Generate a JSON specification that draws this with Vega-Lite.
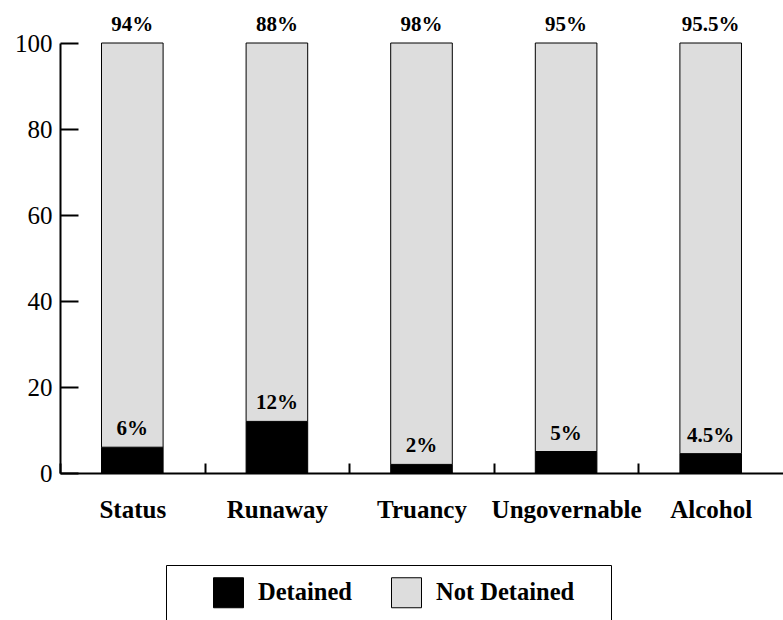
{
  "$schema": "https://vega.github.io/schema/vega-lite/v6.json",
  "autosize": {"type": "none"},
  "padding": {"left": 60, "top": 43, "right": 0, "bottom": 147},
  "width": 723,
  "height": 430,
  "config": {
    "font": "Liberation Serif, Times New Roman, serif",
    "view": {"stroke": null},
    "legend": {
      "orient": "none",
      "legendX": 106,
      "legendY": 522,
      "direction": "horizontal",
      "strokeColor": "black",
      "strokeWidth": 1,
      "padding": 12,
      "symbolType": "square",
      "symbolSize": 900,
      "symbolStrokeColor": "black",
      "symbolStrokeWidth": 1,
      "symbolOpacity": 1,
      "labelFont": "Liberation Serif, Times New Roman, serif",
      "labelFontSize": 24.5,
      "labelFontWeight": "bold",
      "labelColor": "black",
      "labelOffset": 14,
      "labelLimit": 300,
      "columnPadding": 37,
      "titleOrient": "left",
      "titleFontSize": 1,
      "titlePadding": 35
    }
  },
  "data": {
    "values": [
      {"category": "Status", "status": "Detained", "value": 6, "label": "6%", "ord": 0},
      {"category": "Status", "status": "Not Detained", "value": 94, "label": "94%", "ord": 1},
      {"category": "Runaway", "status": "Detained", "value": 12, "label": "12%", "ord": 0},
      {"category": "Runaway", "status": "Not Detained", "value": 88, "label": "88%", "ord": 1},
      {"category": "Truancy", "status": "Detained", "value": 2, "label": "2%", "ord": 0},
      {"category": "Truancy", "status": "Not Detained", "value": 98, "label": "98%", "ord": 1},
      {"category": "Ungovernable", "status": "Detained", "value": 5, "label": "5%", "ord": 0},
      {"category": "Ungovernable", "status": "Not Detained", "value": 95, "label": "95%", "ord": 1},
      {"category": "Alcohol", "status": "Detained", "value": 4.5, "label": "4.5%", "ord": 0},
      {"category": "Alcohol", "status": "Not Detained", "value": 95.5, "label": "95.5%", "ord": 1}
    ]
  },
  "transform": [
    {"stack": "value", "groupby": ["category"], "sort": [{"field": "ord", "order": "ascending"}], "as": ["v0", "v1"]}
  ],
  "encoding": {
    "x": {
      "field": "category",
      "type": "nominal",
      "sort": ["Status", "Runaway", "Truancy", "Ungovernable", "Alcohol"],
      "scale": {"paddingInner": 0.574, "paddingOuter": 0.287},
      "axis": {
        "title": null,
        "labelAngle": 0,
        "tickOffset": -72.3,
        "labelOffset": 72.3,
        "tickSize": -10,
        "tickWidth": 2,
        "tickColor": "black",
        "domainWidth": 2,
        "domainColor": "black",
        "labelFont": "Liberation Serif, Times New Roman, serif",
        "labelFontSize": 25,
        "labelFontWeight": "bold",
        "labelColor": "black",
        "labelPadding": 34
      }
    }
  },
  "layer": [
    {
      "mark": {"type": "bar", "stroke": "black", "strokeWidth": 1, "opacity": 1},
      "encoding": {
        "y": {
          "field": "v0",
          "type": "quantitative",
          "scale": {"domain": [0, 100], "nice": false},
          "axis": {
            "title": null,
            "values": [0, 20, 40, 60, 80, 100],
            "grid": false,
            "tickSize": -18,
            "tickWidth": 2,
            "tickColor": "black",
            "domainWidth": 2,
            "domainColor": "black",
            "labelFont": "Liberation Serif, Times New Roman, serif",
            "labelFontSize": 25,
            "labelColor": "black",
            "labelPadding": 26
          }
        },
        "y2": {"field": "v1"},
        "color": {
          "field": "status",
          "type": "nominal",
          "scale": {"domain": ["Detained", "Not Detained"], "range": ["#000000", "#dddddd"]},
          "legend": {
            "title": "\u00a0",
            "labelExpr": "datum.value == 'Not Detained' ? 'Not Detained\u2003\u200b' : datum.label"
          }
        }
      }
    },
    {
      "mark": {"type": "text", "baseline": "alphabetic", "dy": -12, "fontSize": 21, "fontWeight": "bold", "font": "Liberation Serif, Times New Roman, serif", "color": "black"},
      "encoding": {
        "y": {"field": "v1", "type": "quantitative"},
        "text": {"field": "label"}
      }
    }
  ]
}
